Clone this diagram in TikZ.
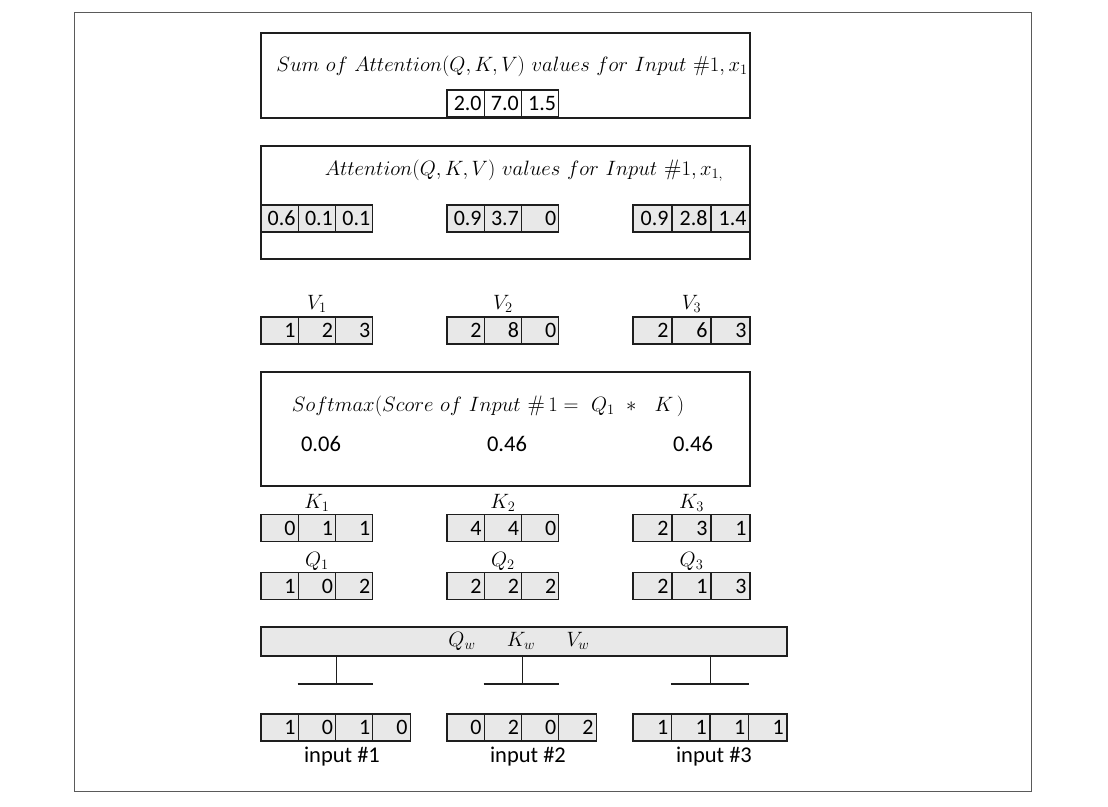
\documentclass[tikz,border=0pt]{standalone}
\usepackage{amsmath}
\usepackage{fontspec}
\usepackage{tikz}
\usetikzlibrary{positioning}
\newfontfamily\numfont{Carlito}
\definecolor{cellgray}{HTML}{E8E8E8}
\definecolor{framegray}{HTML}{5A5A5A}
\definecolor{linedark}{HTML}{1E1E1E}

\tikzset{
  cell/.style={draw=linedark, line width=1.1pt, fill=cellgray, minimum width=#1, minimum height=27pt,
    text width=32pt, align=right, inner sep=0pt, font=\numfont\fontsize{22}{26}\selectfont},
  cell/.default=37.3pt,
  panel/.style={draw=linedark, line width=1.1pt, inner sep=0pt},
  mathlbl/.style={font=\fontsize{22.4}{26}\selectfont, inner sep=1pt},
  numlbl/.style={font=\numfont\fontsize{22.5}{26}\selectfont, inner sep=1pt}
}

\begin{document}
\begin{tikzpicture}[x=1pt, y=-1pt]
    \useasboundingbox (0,0) rectangle (1108,806);
    \draw[framegray, line width=0.8pt] (74,12) rectangle (1031,791);

    % Sum box
    \node[panel, minimum width=489pt, minimum height=85pt] (sumbox) at (505.5,75.5) {};
    \node[mathlbl, font=\fontsize{21.8}{26}\selectfont] (sumtitle) at (512,66) {$Sum\ of\ Attention(Q,K,V)\ values\ for\ Input\ \#1, x_1$};
    \foreach \x/\v [count=\i] in {465.6/2.0, 502.8/7.0, 540/1.5} {
        \node[cell, fill=white] (sum-\i) at (\x,103.5) {\v};
    }

    % Attention box
    \node[panel, minimum width=489pt, minimum height=113pt] (attbox) at (505.5,202.5) {};
    \node[mathlbl] (atttitle) at (524,171) {$Attention(Q,K,V)\ values\ for\ Input\ \#1, x_{1,}$};
    \foreach \x/\v [count=\i] in {279.6/0.6, 316.9/0.1, 354.2/0.1, 465.6/0.9, 502.9/3.7, 540.2/0} {
        \node[cell] (att-\i) at (\x,218.5) {\v};
    }
    \foreach \x/\v [count=\i from 7] in {652.5/0.9, 691.5/2.8, 730.5/1.4} {
        \node[cell=39pt] (att-\i) at (\x,218.5) {\v};
    }

    % Values
    \foreach \x/\v [count=\i] in {279.6/1, 316.9/2, 354.2/3} {
        \node[cell] (v1-\i) at (\x,330.5) {\v};
    }
    \foreach \x/\v [count=\i] in {465.6/2, 502.9/8, 540.2/0} {
        \node[cell] (v2-\i) at (\x,330.5) {\v};
    }
    \foreach \x/\v [count=\i] in {652.5/2, 691.5/6, 730.5/3} {
        \node[cell=39pt] (v3-\i) at (\x,330.5) {\v};
    }
    \node[mathlbl, above=3pt of v1-2] (v1lbl) {$V_1$};
    \node[mathlbl, above=3pt of v2-2] (v2lbl) {$V_2$};
    \node[mathlbl, above=3pt of v3-2] (v3lbl) {$V_3$};

    % Softmax box
    \node[panel, minimum width=489pt, minimum height=114pt] (softbox) at (505.5,429) {};
    \node[mathlbl] (softtitle) at (488,406) {$Softmax(Score\ of\ Input\ \#\,1 =\ Q_1\ *\ \ K\,)$};
    \node[numlbl] (s1) at (321,444) {0.06};
    \node[numlbl] (s2) at (507,444) {0.46};
    \node[numlbl] (s3) at (693,444) {0.46};

    % Keys
    \foreach \x/\v [count=\i] in {279.6/0, 316.9/1, 354.2/1} {
        \node[cell] (k1-\i) at (\x,528) {\v};
    }
    \foreach \x/\v [count=\i] in {465.6/4, 502.9/4, 540.2/0} {
        \node[cell] (k2-\i) at (\x,528) {\v};
    }
    \foreach \x/\v [count=\i] in {652.5/2, 691.5/3, 730.5/1} {
        \node[cell=39pt] (k3-\i) at (\x,528) {\v};
    }
    \node[mathlbl, above=1pt of k1-2] (k1lbl) {$K_1$};
    \node[mathlbl, above=1pt of k2-2] (k2lbl) {$K_2$};
    \node[mathlbl, above=1pt of k3-2] (k3lbl) {$K_3$};

    % Queries
    \foreach \x/\v [count=\i] in {279.6/1, 316.9/0, 354.2/2} {
        \node[cell] (q1-\i) at (\x,586) {\v};
    }
    \foreach \x/\v [count=\i] in {465.6/2, 502.9/2, 540.2/2} {
        \node[cell] (q2-\i) at (\x,586) {\v};
    }
    \foreach \x/\v [count=\i] in {652.5/2, 691.5/1, 730.5/3} {
        \node[cell=39pt] (q3-\i) at (\x,586) {\v};
    }
    \node[mathlbl, above=0pt of q1-2] (q1lbl) {$Q_1$};
    \node[mathlbl, above=0pt of q2-2] (q2lbl) {$Q_2$};
    \node[mathlbl, above=0pt of q3-2] (q3lbl) {$Q_3$};

    % Weights bar
    \node[panel, fill=cellgray, minimum width=526pt, minimum height=29pt] (wbar) at (524,641.5) {};
    \node[mathlbl] (qw) at (462,641) {$Q_w$};
    \node[mathlbl] (kw) at (521,641) {$K_w$};
    \node[mathlbl] (vw) at (578,641) {$V_w$};

    % Inputs
    \foreach \x/\v [count=\i] in {279.6/1, 316.9/0, 354.2/1, 391.5/0} {
        \node[cell] (in1-\i) at (\x,727.5) {\v};
    }
    \foreach \x/\v [count=\i] in {465.6/0, 502.9/2, 540.2/0, 577.5/2} {
        \node[cell] (in2-\i) at (\x,727.5) {\v};
    }
    \foreach \x/\v [count=\i] in {652.2/1, 690.7/1, 729.2/1, 767.7/1} {
        \node[cell=38.5pt] (in3-\i) at (\x,727.5) {\v};
    }
    \node[numlbl] (in1lbl) at (342,757) {input \#1};
    \node[numlbl] (in2lbl) at (528,757) {input \#2};
    \node[numlbl] (in3lbl) at (714,757) {input \#3};

    % Tees under the bar
    \coordinate (t1) at (in1-2.east |- 0,684);
    \coordinate (t2) at (in2-2.east |- 0,684);
    \coordinate (t3) at (in3-2.east |- 0,684);
    \foreach \t/\g in {t1/in1, t2/in2, t3/in3} {
        \draw[linedark, line width=1.1pt] (wbar.south -| \t) -- (\t);
        \draw[linedark, line width=1.1pt] (\g-2.west |- \t) -- (\g-3.east |- \t);
    }
\end{tikzpicture}
\end{document}
